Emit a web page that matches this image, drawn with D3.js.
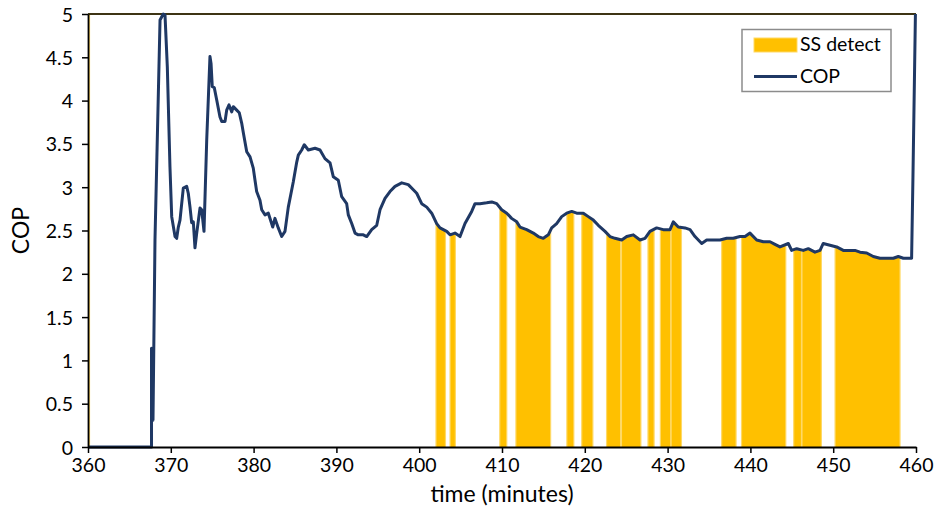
<!DOCTYPE html>
<html>
<head>
<meta charset="utf-8">
<script src="https://cdn.jsdelivr.net/npm/d3@7"></script>
<style>
  body { margin: 0; background: #fff; }
  text { font-family: Lato, "Open Sans", sans-serif; fill: #000; }
</style>
</head>
<body>
<script>
//chart data
var timeMin = [360, 367.67, 367.67, 367.85, 368.09, 368.70, 369.09, 369.30, 369.58, 369.90,
  370.11, 370.51, 370.71, 370.91, 371.11, 371.51, 371.92, 372.11, 372.32, 372.52,
  372.72, 372.92, 373.13, 373.53, 373.73, 374.01, 374.34, 374.73, 374.86, 375.01,
  375.25, 375.54, 375.94, 376.15, 376.55, 376.75, 377.03, 377.36, 377.55, 377.96,
  378.27, 378.56, 378.76, 379.17, 379.57, 379.96, 380.17, 380.37, 380.77, 380.98,
  381.38, 381.78, 382.31, 382.58, 382.98, 383.39, 383.79, 384.19, 384.79, 385.21,
  385.40, 385.81, 386.12, 386.61, 387.42, 388.02, 388.62, 389.23, 389.63, 390.23,
  390.64, 391.24, 391.44, 391.85, 392.25, 392.64, 393.25, 393.66, 394.26, 394.87,
  395.27, 395.87, 396.47, 397.08, 397.89, 398.68, 399.29, 399.70, 400.30, 400.91,
  401.51, 402.11, 402.51, 403.32, 403.72, 404.32, 404.93, 405.53, 406.34, 406.74,
  407.34, 408.15, 408.76, 409.36, 409.96, 410.57, 411.16, 411.78, 412.17, 412.98,
  413.78, 414.38, 414.99, 415.59, 416.00, 416.60, 417.21, 417.81, 418.42, 419.02,
  419.82, 420.42, 421.03, 421.63, 422.44, 423.04, 423.65, 424.46, 425.06, 425.86,
  426.67, 427.27, 427.87, 428.68, 429.48, 430.29, 430.69, 431.29, 432.10, 432.71,
  433.31, 434.12, 434.72, 435.52, 436.33, 437.14, 437.93, 438.74, 439.35, 439.95,
  440.76, 441.56, 442.37, 442.97, 443.57, 444.58, 444.98, 445.59, 446.39, 446.99,
  447.80, 448.41, 448.80, 449.61, 450.42, 451.22, 452.03, 452.63, 453.24, 454.05,
  454.84, 455.65, 456.46, 457.26, 457.86, 458.47, 459.07, 459.47, 459.63, 459.93];

var copValues = [0, 0, 1.14, 0.31, 2.39, 4.93, 5.00, 4.99, 4.39, 3.23,
  2.66, 2.43, 2.41, 2.54, 2.62, 2.99, 3.01, 2.93, 2.77, 2.59,
  2.60, 2.30, 2.47, 2.76, 2.74, 2.49, 3.55, 4.51, 4.43, 4.16,
  4.15, 4.01, 3.81, 3.76, 3.76, 3.89, 3.95, 3.87, 3.93, 3.89,
  3.86, 3.74, 3.63, 3.41, 3.35, 3.22, 3.08, 2.95, 2.85, 2.74,
  2.68, 2.70, 2.54, 2.64, 2.53, 2.43, 2.49, 2.77, 3.06, 3.29,
  3.37, 3.43, 3.49, 3.43, 3.45, 3.43, 3.33, 3.28, 3.12, 3.08,
  2.89, 2.81, 2.68, 2.58, 2.47, 2.45, 2.45, 2.43, 2.51, 2.56,
  2.74, 2.87, 2.95, 3.01, 3.05, 3.03, 2.97, 2.93, 2.81, 2.77,
  2.70, 2.58, 2.53, 2.49, 2.45, 2.47, 2.43, 2.58, 2.72, 2.81,
  2.81, 2.82, 2.83, 2.81, 2.74, 2.70, 2.64, 2.60, 2.54, 2.51,
  2.47, 2.43, 2.41, 2.45, 2.53, 2.58, 2.66, 2.70, 2.72, 2.70,
  2.70, 2.66, 2.62, 2.56, 2.49, 2.43, 2.41, 2.39, 2.43, 2.45,
  2.39, 2.41, 2.49, 2.53, 2.51, 2.51, 2.60, 2.54, 2.53, 2.51,
  2.43, 2.35, 2.39, 2.39, 2.39, 2.41, 2.41, 2.43, 2.43, 2.47,
  2.39, 2.37, 2.37, 2.34, 2.31, 2.35, 2.27, 2.29, 2.27, 2.29,
  2.25, 2.27, 2.35, 2.33, 2.31, 2.27, 2.27, 2.27, 2.25, 2.24,
  2.20, 2.18, 2.18, 2.18, 2.20, 2.18, 2.18, 2.18, 3.11, 5.00];

//steady state detected intervals (start, end in minutes)
var ssStart = [402.1, 403.8, 409.8, 411.75, 417.9, 419.7, 422.7, 424.5, 427.7, 429.2, 430.5, 436.6, 439.0, 445.3, 446.3, 450.3];
var ssEnd   = [403.1, 404.3, 410.5, 415.8, 418.6, 420.9, 424.25, 426.7, 428.3, 430.3, 431.6, 438.2, 444.2, 446.1, 448.5, 458.0];

var xTicks = [360, 370, 380, 390, 400, 410, 420, 430, 440, 450, 460];
var yTicks = [0, 0.5, 1, 1.5, 2, 2.5, 3, 3.5, 4, 4.5, 5];

window.onload = function(){

    var w = 940, h = 513;
    var left = 88, right = 916, top = 14, bottom = 447;

    var svg = d3.select("body")
        .append("svg")
        .attr("width", w)
        .attr("height", h);

    var x = d3.scaleLinear().domain([360, 460]).range([left, right]);
    var y = d3.scaleLinear().domain([0, 5]).range([bottom, top]);

    var cop = timeMin.map(function(t, i){ return {t: t, v: copValues[i]}; });
    var bands = ssStart.map(function(s, i){ return {s: s, e: ssEnd[i]}; });

    //clip paths for the SS detect bands (soft edge + solid core)
    var defs = svg.append("defs");
    defs.append("clipPath").attr("id", "bandsOuter")
        .selectAll("rect").data(bands).enter().append("rect")
        .attr("x", function(d){ return x(d.s) - 1.2; })
        .attr("width", function(d){ return x(d.e) - x(d.s) + 2.4; })
        .attr("y", top).attr("height", bottom - top);
    defs.append("clipPath").attr("id", "bandsInner")
        .selectAll("rect").data(bands).enter().append("rect")
        .attr("x", function(d){ return x(d.s); })
        .attr("width", function(d){ return x(d.e) - x(d.s); })
        .attr("y", top).attr("height", bottom - top);

    var area = d3.area()
        .x(function(d){ return x(d.t); })
        .y0(y(0))
        .y1(function(d){ return y(d.v); });

    svg.append("path").datum(cop)
        .attr("d", area)
        .attr("clip-path", "url(#bandsOuter)")
        .style("fill", "#FFD966");
    svg.append("path").datum(cop)
        .attr("d", area)
        .attr("clip-path", "url(#bandsInner)")
        .style("fill", "#FFC000");

    //thin yellow edge of the SS series at the left side
    svg.append("line")
        .attr("x1", x(360) + 1.5).attr("x2", x(360) + 1.5)
        .attr("y1", y(0)).attr("y2", y(5))
        .style("stroke", "#FFD966").style("stroke-width", 1.2);

    //top frame line
    svg.append("line")
        .attr("x1", left).attr("x2", right)
        .attr("y1", y(5)).attr("y2", y(5))
        .style("stroke", "#3d3414").style("stroke-width", 2);

    //COP line
    var line = d3.line()
        .x(function(d){ return x(d.t); })
        .y(function(d){ return y(d.v); });

    svg.append("path").datum(cop)
        .attr("d", line)
        .style("fill", "none")
        .style("stroke", "#1F3864")
        .style("stroke-width", 3)
        .style("stroke-linejoin", "round");

    //axes
    var xAxis = d3.axisBottom(x).tickValues(xTicks).tickSize(6).tickPadding(5).tickSizeOuter(0);
    var yAxis = d3.axisLeft(y).tickValues(yTicks).tickSize(6).tickPadding(9).tickSizeOuter(0)
        .tickFormat(d3.format("~g"));

    var gx = svg.append("g")
        .attr("transform", "translate(0," + bottom + ")")
        .call(xAxis);
    var gy = svg.append("g")
        .attr("transform", "translate(" + left + ",0)")
        .call(yAxis);

    [gx, gy].forEach(function(g){
        g.select(".domain").style("stroke", "#000").style("stroke-width", 1.8);
        g.selectAll(".tick line").style("stroke", "#000").style("stroke-width", 1.5);
        g.selectAll(".tick text")
            .style("font-size", "19.5px")
            .style("font-family", "Lato, 'Open Sans', sans-serif")
            .attr("fill", "#000");
    });
    gy.selectAll(".tick text").attr("dy", "0.36em");

    //axis titles
    svg.append("text")
        .attr("x", (left + right) / 2)
        .attr("y", 502)
        .attr("text-anchor", "middle")
        .style("font-size", "23px")
        .text("time (minutes)");

    svg.append("text")
        .attr("transform", "translate(29," + ((top + bottom) / 2) + ") rotate(-90)")
        .attr("text-anchor", "middle")
        .style("font-size", "23px")
        .text("COP");

    //legend
    var legend = svg.append("g").attr("class", "legend");
    legend.append("rect")
        .attr("x", 742).attr("y", 29.5)
        .attr("width", 149).attr("height", 62)
        .style("fill", "#fff")
        .style("stroke", "#8c8c8c")
        .style("stroke-width", 1.5);
    legend.append("rect")
        .attr("x", 754).attr("y", 38)
        .attr("width", 43).attr("height", 14)
        .style("fill", "#FFC000")
        .style("stroke", "#FFD966")
        .style("stroke-width", 1);
    legend.append("text")
        .attr("x", 800).attr("y", 51)
        .style("font-size", "19.5px")
        .text("SS detect");
    legend.append("line")
        .attr("x1", 754).attr("x2", 797)
        .attr("y1", 76.5).attr("y2", 76.5)
        .style("stroke", "#1F3864")
        .style("stroke-width", 3);
    legend.append("text")
        .attr("x", 800).attr("y", 83)
        .style("font-size", "19.5px")
        .text("COP");
};
</script>
</body>
</html>
